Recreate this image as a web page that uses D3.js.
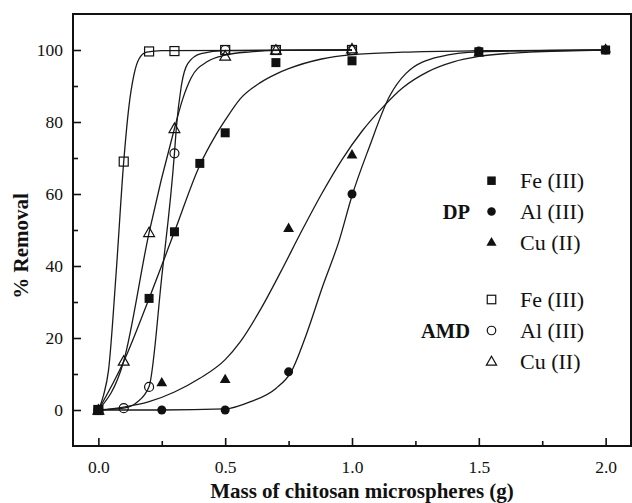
<!DOCTYPE html>
<html>
<head>
<meta charset="utf-8">
<script src="https://cdn.jsdelivr.net/npm/d3@7/dist/d3.min.js"></script>
<style>
  html, body { margin: 0; padding: 0; background: #fff; }
  svg { display: block; }
  text { font-family: "Liberation Serif", "Times New Roman", serif; fill: #111; }
</style>
</head>
<body>
<svg id="chart" width="632" height="503"></svg>
<script>
// ---------- data ----------
const xTicks = [0.0, 0.5, 1.0, 1.5, 2.0];
const xMinorTicks = [0.25, 0.75, 1.25, 1.75];
const yTicks = [0, 20, 40, 60, 80, 100];
const yMinorTicks = [10, 30, 50, 70, 90];
const xTitle = "Mass of chitosan microspheres (g)";
const yTitle = "% Removal";

// measured points [mass (g), % removal]
const dpFe  = [[0,0],[0.2,31],[0.3,49.5],[0.4,68.5],[0.5,77],[0.7,96.5],[1.0,97],[1.5,99.5],[2.0,100]];
const dpAl  = [[0,0],[0.25,0],[0.5,0],[0.75,10.6],[1.0,60],[1.5,99.7],[2.0,100]];
const dpCu  = [[0,0],[0.25,7.7],[0.5,8.6],[0.75,50.6],[1.0,71],[1.5,99.3],[2.0,100.4]];
const amdFe = [[0,0],[0.1,69],[0.2,99.6],[0.3,99.7],[0.5,100],[0.7,100],[1.0,100]];
const amdAl = [[0,0],[0.1,0.5],[0.2,6.4],[0.3,71.3],[0.5,100],[0.7,100],[1.0,100]];
const amdCu = [[0,0],[0.1,13.6],[0.2,49.3],[0.3,78.2],[0.5,98.3],[0.7,100],[1.0,100.3]];

// fitted curves, points
const fitDpFe  = [[0,0],[0.1,13.5],[0.2,31],[0.3,49.5],[0.4,68],[0.46,76],[0.5,80.5],[0.56,86.5],[0.64,91],[0.7,93.3],[0.75,94.8],[0.88,97.5],[1.0,98.7],[1.2,99.4],[1.5,99.8],[2.0,100]];
const fitDpAl  = [[0,0],[0.25,0],[0.5,0.3],[0.6,2.3],[0.7,6],[0.76,10.6],[0.82,21],[0.884,34.3],[0.95,47.2],[1.0,59.5],[1.068,73],[1.147,87],[1.213,93.5],[1.344,98.1],[1.5,99.5],[2.0,100]];
const fitDpCu  = [[0,0],[0.1,0.8],[0.2,2.3],[0.3,5],[0.4,8.8],[0.5,14],[0.56,19],[0.64,28],[0.72,38.5],[0.8,49.5],[0.88,60],[0.96,69.5],[1.04,77.5],[1.12,84],[1.2,89.5],[1.3,94],[1.4,96.7],[1.5,98.2],[1.7,99.4],[2.0,100]];
const fitAmdFe = [[0,0],[0.02,4],[0.04,11],[0.07,38],[0.1,69],[0.12,84],[0.14,93],[0.16,97.5],[0.19,99.4],[0.25,99.8],[1.0,100]];
const fitAmdAl = [[0,0],[0.1,0.5],[0.15,2],[0.2,6.5],[0.25,37],[0.3,71.3],[0.307,78],[0.327,90],[0.353,96.3],[0.405,99],[0.5,99.8],[1.0,100]];
const fitAmdCu = [[0,0],[0.1,13.6],[0.2,49.3],[0.3,78.2],[0.333,86.5],[0.366,92.3],[0.43,96.8],[0.5,98.6],[0.6,99.5],[0.7,99.9],[1.0,100]];

const legendGroups = ["DP", "AMD"];
const legendLabels = ["Fe (III)", "Al (III)", "Cu (II)"];

// ---------- layout ----------
const svg = d3.select("#chart");
const L = 73, R = 631, T = 14, B = 446;
const x = d3.scaleLinear().domain([-0.1, 2.1]).range([L, R]);
const y = d3.scaleLinear().domain([-10, 110]).range([B, T]);

// frame
svg.append("rect").attr("x", L).attr("y", T).attr("width", R - L).attr("height", B - T)
  .attr("fill", "none").attr("stroke", "#111").attr("stroke-width", 2);

// axes (ticks inward)
const xAxis = d3.axisBottom(x).tickValues(xTicks).tickFormat(d3.format(".1f"))
  .tickSizeInner(-8).tickSizeOuter(0).tickPadding(18);
const gx = svg.append("g").attr("transform", `translate(0,${B})`).call(xAxis);
gx.select(".domain").remove();
gx.selectAll(".tick line").attr("stroke", "#111").attr("stroke-width", 1.6);
gx.selectAll(".tick text").attr("font-size", 17.5).attr("fill", "#111")
  .attr("font-family", "Liberation Serif").attr("dy", "0").attr("y", 27);

const xMinor = d3.axisBottom(x).tickValues(xMinorTicks).tickFormat("").tickSizeInner(-5).tickSizeOuter(0);
const gxm = svg.append("g").attr("transform", `translate(0,${B})`).call(xMinor);
gxm.select(".domain").remove();
gxm.selectAll(".tick line").attr("stroke", "#111").attr("stroke-width", 1.6);

const yAxis = d3.axisLeft(y).tickValues(yTicks).tickFormat(d3.format("d"))
  .tickSizeInner(-8).tickSizeOuter(0).tickPadding(18);
const gy = svg.append("g").attr("transform", `translate(${L},0)`).call(yAxis);
gy.select(".domain").remove();
gy.selectAll(".tick line").attr("stroke", "#111").attr("stroke-width", 1.6);
gy.selectAll(".tick text").attr("font-size", 17.5).attr("fill", "#111")
  .attr("font-family", "Liberation Serif").attr("x", -10).attr("dy", "0.33em");

const yMinor = d3.axisLeft(y).tickValues(yMinorTicks).tickFormat("").tickSizeInner(-5).tickSizeOuter(0);
const gym = svg.append("g").attr("transform", `translate(${L},0)`).call(yMinor);
gym.select(".domain").remove();
gym.selectAll(".tick line").attr("stroke", "#111").attr("stroke-width", 1.6);

// titles
svg.append("text").attr("x", 362).attr("y", 498).attr("text-anchor", "middle")
  .attr("font-size", 21).attr("font-weight", "bold").text(xTitle);
svg.append("text").attr("transform", "translate(28,246) rotate(-90)").attr("text-anchor", "middle")
  .attr("font-size", 21).attr("font-weight", "bold").text(yTitle);

// fitted curves
const line = d3.line().x(d => x(d[0])).y(d => y(d[1])).curve(d3.curveMonotoneX);
const plot = svg.append("g");
[fitAmdFe, fitAmdAl, fitAmdCu, fitDpFe, fitDpAl, fitDpCu].forEach(c => {
  plot.append("path").attr("d", line(c)).attr("fill", "none")
    .attr("stroke", "#1a1a1a").attr("stroke-width", 1.3);
});

// markers
function marker(g, shape, filled, cx, cy, s) {
  const fill = filled ? "#111" : "none";
  const sw = filled ? 0 : 1.2;
  if (shape === "square") {
    g.append("rect").attr("x", cx - s / 2).attr("y", cy - s / 2).attr("width", s).attr("height", s)
      .attr("fill", fill).attr("stroke", "#111").attr("stroke-width", sw);
  } else if (shape === "circle") {
    g.append("circle").attr("cx", cx).attr("cy", cy).attr("r", s / 2)
      .attr("fill", fill).attr("stroke", "#111").attr("stroke-width", sw);
  } else {
    const w = s * 1.2, h = s * 1.0;
    g.append("path").attr("d", `M${cx},${cy - h * 0.6}L${cx + w / 2},${cy + h * 0.45}L${cx - w / 2},${cy + h * 0.45}Z`)
      .attr("fill", fill).attr("stroke", "#111").attr("stroke-width", sw);
  }
}

const seriesList = [
  { data: amdFe, shape: "square", filled: false },
  { data: amdAl, shape: "circle", filled: false },
  { data: amdCu, shape: "triangle", filled: false },
  { data: dpFe, shape: "square", filled: true },
  { data: dpAl, shape: "circle", filled: true },
  { data: dpCu, shape: "triangle", filled: true }
];
const mk = svg.append("g");
seriesList.forEach(s => s.data.forEach(d => marker(mk, s.shape, s.filled, x(d[0]), y(d[1]), 9)));

// legend
const lg = svg.append("g");
const shapes = ["square", "circle", "triangle"];
const rowY = [[180.7, 211.4, 242], [299.5, 330.5, 361.3]];
legendGroups.forEach((grp, gi) => {
  lg.append("text").attr("x", 470).attr("y", rowY[gi][1]).attr("dy", "0.35em")
    .attr("text-anchor", "end").attr("font-size", 20.5).attr("font-weight", "bold").text(grp);
  legendLabels.forEach((lab, i) => {
    marker(lg, shapes[i], gi === 0, 491.5, rowY[gi][i], 8.5);
    lg.append("text").attr("x", 520).attr("y", rowY[gi][i]).attr("dy", "0.35em")
      .attr("font-size", 22).text(lab);
  });
});
</script>
</body>
</html>
